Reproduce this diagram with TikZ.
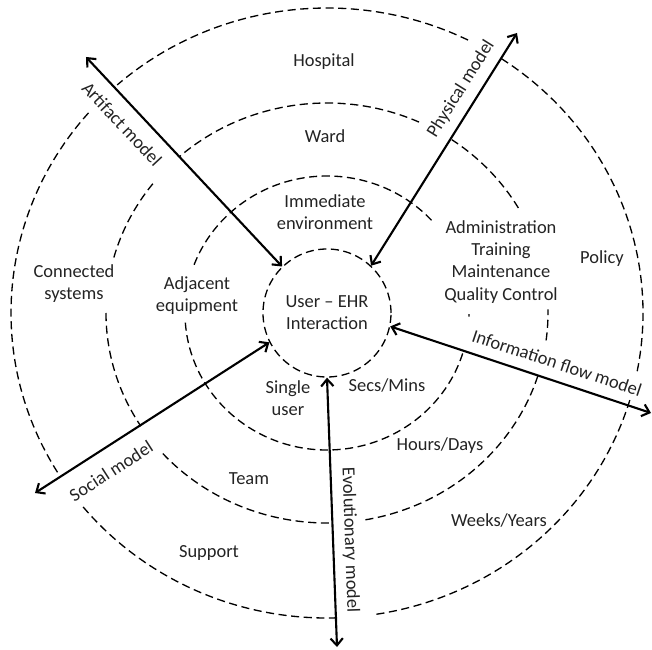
\documentclass[tikz,border=0pt]{standalone}
\usepackage{fontspec}
\setmainfont{Carlito}
\usetikzlibrary{arrows.meta}

\begin{document}
\begin{tikzpicture}[x=0.2mm, y=0.2mm,
        font=\fontsize{10.5}{12.6}\selectfont,
        ring/.style={line width=0.75pt, dash pattern=on 4.6pt off 2.6pt},
        link/.style={<->, >={Straight Barb[length=4pt,width=7pt]}, line width=1.2pt},
        lbl/.style={text=txtcolor, align=center, inner sep=1pt}]
    % Define colors
    \definecolor{txtcolor}{RGB}{35,35,35}

    \useasboundingbox (-327,-336) rectangle (325,313);

    % Centre circle
    \node[circle, draw, ring, minimum size=25.6mm, lbl] (ehr) at (0,0) {User – EHR\\Interaction};

    % Draw dashed rings (broken where labels sit)
    \foreach \a/\b in {42.6/160.5, 184/344, -1.5/-0.5}
        {
        \draw[ring] (\a:142 and 137) arc[start angle=\a, end angle=\b, x radius=142, y radius=137];
    }
    \foreach \a/\b in {30/55.6, 65.4/132, 142/165, 180/212.6, 222/271.5, 280/342.5, 352.5/361}
        {
        \draw[ring] (\a:221 and 210) arc[start angle=\a, end angle=\b, x radius=221, y radius=210];
    }
    \foreach \a/\b in {63.5/131.6, 139/212.5, 219.5/272, 279/343.5, 349/417}
        {
        \draw[ring] (\a:316 and 305) arc[start angle=\a, end angle=\b, x radius=316, y radius=305];
    }

    % Outer ends of the model arrows
    \coordinate (artifactEnd) at (-241,256);
    \coordinate (physicalEnd) at (190,280);
    \coordinate (infoEnd) at (324,-100);
    \coordinate (evoEnd) at (10,-334);
    \coordinate (socialEnd) at (-292,-180);

    % Model arrows
    \draw[link] (artifactEnd) -- (ehr.134);
    \draw[link] (physicalEnd) -- (ehr.47);
    \draw[link] (infoEnd) -- (ehr.-12);
    \draw[link] (evoEnd) -- (ehr.-90);
    \draw[link] (socialEnd) -- (ehr.207);

    % Arrow labels
    \node[lbl, rotate=-47] (artifact) at (-205,189) {Artifact model};
    \node[lbl, rotate=58] (physical) at (134,224) {Physical model};
    \node[lbl, rotate=-18.4] (info) at (230,-50) {Information flow model};
    \node[lbl, rotate=-88] (evo) at (23,-227) {Evolutionary model};
    \node[lbl, rotate=32.8] (social) at (-216,-158) {Social model};

    % Ring labels
    \node[lbl] (hospital) at (-3,251) {Hospital};
    \node[lbl] (ward) at (-2,177) {Ward};
    \node[lbl] (immediate) at (-2,101) {Immediate\\environment};
    \node[lbl] (admin) at (174,51) {Administration\\Training\\Maintenance\\Quality Control};
    \node[lbl] (policy) at (275,54) {Policy};
    \node[lbl] (connected) at (-253,29) {Connected\\systems};
    \node[lbl] (adjacent) at (-130,17) {Adjacent\\equipment};
    \node[lbl] (single) at (-39,-85) {Single\\user};
    \node[lbl] (secs) at (60,-72) {Secs/Mins};
    \node[lbl] (hours) at (113,-133) {Hours/Days};
    \node[lbl] (team) at (-78,-166) {Team};
    \node[lbl] (weeks) at (172,-207) {Weeks/Years};
    \node[lbl] (support) at (-118,-240) {Support};
\end{tikzpicture}
\end{document}
